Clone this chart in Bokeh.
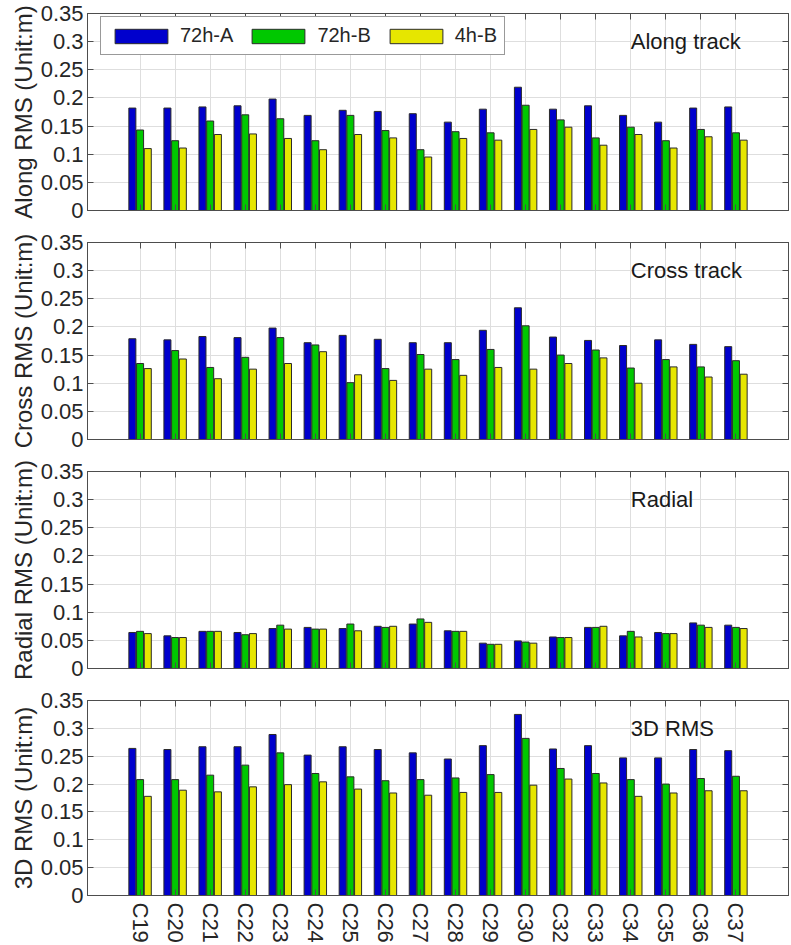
import math
from bokeh.plotting import figure
from bokeh.layouts import column
from bokeh.models import (FactorRange, Range1d, FixedTicker, LinearAxis, CategoricalAxis,
                          Legend, LegendItem, CustomJSTickFormatter, ColumnDataSource)
from bokeh.transform import dodge
from bokeh.core.properties import value
from bokeh.embed import file_html
from bokeh.resources import INLINE

# ---------------- data ----------------
sats = ["C19", "C20", "C21", "C22", "C23", "C24", "C25", "C26", "C27",
        "C28", "C29", "C30", "C32", "C33", "C34", "C35", "C36", "C37"]
series_names = ["72h-A", "72h-B", "4h-B"]

along_72h_a = [0.182, 0.182, 0.184, 0.186, 0.198, 0.169, 0.178, 0.176, 0.172,
               0.157, 0.180, 0.219, 0.180, 0.186, 0.169, 0.157, 0.182, 0.184]
along_72h_b = [0.143, 0.124, 0.159, 0.170, 0.163, 0.124, 0.169, 0.142, 0.108,
               0.140, 0.138, 0.187, 0.161, 0.129, 0.148, 0.124, 0.144, 0.138]
along_4h_b = [0.110, 0.111, 0.135, 0.136, 0.128, 0.108, 0.135, 0.129, 0.095,
              0.128, 0.125, 0.144, 0.148, 0.116, 0.135, 0.111, 0.131, 0.125]

cross_72h_a = [0.179, 0.177, 0.183, 0.181, 0.198, 0.172, 0.185, 0.178, 0.172,
               0.172, 0.194, 0.234, 0.182, 0.176, 0.167, 0.177, 0.169, 0.165]
cross_72h_b = [0.135, 0.158, 0.128, 0.146, 0.181, 0.168, 0.101, 0.126, 0.151,
               0.142, 0.160, 0.202, 0.150, 0.159, 0.127, 0.142, 0.129, 0.140]
cross_4h_b = [0.126, 0.143, 0.108, 0.125, 0.135, 0.156, 0.115, 0.105, 0.125,
              0.114, 0.128, 0.125, 0.135, 0.145, 0.100, 0.129, 0.111, 0.116]

radial_72h_a = [0.064, 0.058, 0.066, 0.064, 0.071, 0.073, 0.071, 0.075, 0.079,
                0.067, 0.045, 0.049, 0.056, 0.073, 0.058, 0.064, 0.081, 0.077]
radial_72h_b = [0.066, 0.055, 0.066, 0.060, 0.077, 0.070, 0.079, 0.073, 0.088,
                0.066, 0.043, 0.047, 0.055, 0.073, 0.066, 0.062, 0.077, 0.073]
radial_4h_b = [0.062, 0.055, 0.066, 0.062, 0.070, 0.070, 0.067, 0.075, 0.082,
               0.066, 0.043, 0.045, 0.055, 0.075, 0.056, 0.062, 0.073, 0.071]

rms3d_72h_a = [0.264, 0.262, 0.267, 0.267, 0.289, 0.252, 0.267, 0.262, 0.256,
               0.245, 0.269, 0.325, 0.263, 0.269, 0.247, 0.247, 0.262, 0.260]
rms3d_72h_b = [0.208, 0.208, 0.216, 0.234, 0.256, 0.219, 0.213, 0.206, 0.208,
               0.211, 0.217, 0.282, 0.228, 0.219, 0.208, 0.200, 0.210, 0.214]
rms3d_4h_b = [0.178, 0.189, 0.186, 0.195, 0.199, 0.204, 0.191, 0.184, 0.180,
              0.185, 0.185, 0.198, 0.209, 0.202, 0.178, 0.184, 0.188, 0.188]

y_ticks = [0, 0.05, 0.1, 0.15, 0.2, 0.25, 0.3, 0.35]
y_tick_labels = ["0", "0.05", "0.1", "0.15", "0.2", "0.25", "0.3", "0.35"]

panel_ylabels = ["Along RMS (Unit:m)", "Cross RMS (Unit:m)",
                 "Radial RMS (Unit:m)", "3D RMS (Unit:m)"]
panel_titles = ["Along track", "Cross track", "Radial", "3D RMS"]
panel_values = [
    (along_72h_a, along_72h_b, along_4h_b),
    (cross_72h_a, cross_72h_b, cross_4h_b),
    (radial_72h_a, radial_72h_b, radial_4h_b),
    (rms3d_72h_a, rms3d_72h_b, rms3d_4h_b),
]

# ---------------- style ----------------
FONT = "Liberation Sans"
TXT = "#262626"
AXC = "#4d4d4d"
GRID = "#dedede"
colors = ["#0000cd", "#00c800", "#e6e600"]
offsets = [-0.22, 0.0, 0.22]

x_range = FactorRange(*sats, range_padding=1, range_padding_units="absolute")


def style_axis(ax, hide_labels):
    ax.axis_line_color = AXC
    ax.major_tick_line_color = AXC
    ax.major_tick_in = 6
    ax.major_tick_out = 0
    ax.minor_tick_line_color = None
    ax.major_label_text_font = FONT
    ax.major_label_text_color = TXT
    ax.major_label_text_font_size = "22px"
    if hide_labels:
        ax.major_label_standoff = 0
        ax.major_label_text_font_size = "0px"
        ax.formatter = CustomJSTickFormatter(code="return ''")


figs = []
for i in range(4):
    last = (i == 3)
    p = figure(x_range=x_range, y_range=Range1d(0, 0.35),
               width=791, height=258 if last else 229,
               min_border_left=87, min_border_right=3, min_border_top=13,
               min_border_bottom=47 if last else 19,
               output_backend="svg", toolbar_location=None,
               background_fill_color="white", border_fill_color="white",
               outline_line_color=AXC)

    a, b, c = panel_values[i]
    src = ColumnDataSource(dict(sat=sats, a=a, b=b, c=c))
    renderers = []
    for key, col, off in zip(["a", "b", "c"], colors, offsets):
        r = p.vbar(x=dodge("sat", off, range=p.x_range), top=key, bottom=0,
                   width=0.2, source=src, fill_color=col,
                   line_color="#2a2a2a", line_width=1)
        renderers.append(r)

    # y axis
    yax = p.yaxis[0]
    yax.ticker = FixedTicker(ticks=y_ticks)
    yax.major_label_overrides = dict(zip(y_ticks, y_tick_labels))
    style_axis(yax, False)
    yax.major_label_standoff = 4
    yax.axis_label = panel_ylabels[i]
    yax.axis_label_text_font = FONT
    yax.axis_label_text_font_size = "24px"
    yax.axis_label_text_font_style = "normal"
    yax.axis_label_text_color = TXT
    yax.axis_label_standoff = 1

    # x axis
    xax = p.xaxis[0]
    if last:
        style_axis(xax, False)
        xax.major_label_orientation = -math.pi / 2
        xax.major_label_standoff = 7
    else:
        style_axis(xax, True)

    # box ticks on top and right
    top_ax = CategoricalAxis()
    style_axis(top_ax, True)
    p.add_layout(top_ax, "above")
    right_ax = LinearAxis(ticker=FixedTicker(ticks=y_ticks))
    style_axis(right_ax, True)
    p.add_layout(right_ax, "right")

    # grid
    p.ygrid.ticker = FixedTicker(ticks=y_ticks)
    p.ygrid.grid_line_color = GRID
    p.xgrid.grid_line_color = GRID

    # panel title text
    tsrc = ColumnDataSource(dict(x=[sats[14]], y=[0.3], t=[panel_titles[i]]))
    p.text(x="x", y="y", text="t", source=tsrc, text_align="left",
           text_baseline="middle", text_font=value(FONT),
           text_font_size="22px", text_color="#1a1a1a")

    if i == 0:
        legend = Legend(items=[LegendItem(label=n, renderers=[r])
                               for n, r in zip(series_names, renderers)],
                        location=(13, 155), orientation="horizontal",
                        glyph_width=66, glyph_height=18, label_standoff=6,
                        spacing=12, padding=7, margin=0,
                        label_text_font=FONT, label_text_font_size="20px",
                        label_text_color=TXT, border_line_color="#333333",
                        border_line_width=1, background_fill_color="white",
                        background_fill_alpha=1.0)
        p.add_layout(legend)

    figs.append(p)

layout = column(*figs, spacing=0)
html = file_html(layout, INLINE)
html = html.replace("<head>", "<head><style>html,body{margin:0;padding:0;overflow:hidden;}</style>", 1)
open("out.html", "w").write(html)
